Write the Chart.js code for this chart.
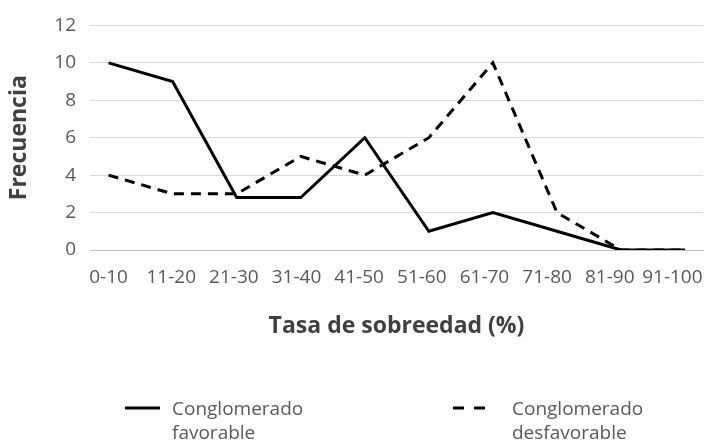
<!DOCTYPE html>
<html>
<head>
<meta charset="utf-8">
<script src="https://cdn.jsdelivr.net/npm/chart.js@4"></script>
<style>
  html, body { margin: 0; padding: 0; background: #fff; }
  #wrap { position: relative; width: 705px; height: 444px; }
  #chart { position: absolute; left: 0; top: 0; }
  .legend-item { position: absolute; top: 396px; font-family: 'Open Sans', sans-serif; font-size: 19px; line-height: 24px; color: #595959; }
  .legend-item svg { position: absolute; left: 0; top: 0; }
  .legend-text { position: absolute; top: 0; white-space: nowrap; }
</style>
</head>
<body>
<div id="wrap">
  <canvas id="chart" width="705" height="444"></canvas>
  <div class="legend-item" style="left:125px">
    <svg width="35" height="24"><line x1="0" y1="12" x2="35" y2="12" stroke="#000" stroke-width="3"/></svg>
    <div class="legend-text" style="left:47px">Conglomerado<br>favorable</div>
  </div>
  <div class="legend-item" style="left:453px">
    <svg width="32" height="24"><line x1="0" y1="12" x2="32" y2="12" stroke="#000" stroke-width="3" stroke-dasharray="11 10"/></svg>
    <div class="legend-text" style="left:59px">Conglomerado<br>desfavorable</div>
  </div>
</div>
<script>
// categories and series
const categories = ['0-10', '11-20', '21-30', '31-40', '41-50', '51-60', '61-70', '71-80', '81-90', '91-100'];
const favorable = [10, 9, 2.8, 2.8, 6, 1, 2, 1, 0, 0];
const desfavorable = [4, 3, 3, 5, 4, 6, 10, 2, 0, 0];
const yTicks = [0, 2, 4, 6, 8, 10, 12];

const tickColor = '#595959';
const titleColor = '#404040';
const fontFamily = "'Open Sans', sans-serif";

function toPoints(values) {
    return values.map((y, i) => ({ x: i, y }));
}

// the original's category labels sit on a slightly tighter pitch than the points,
// so the last one stays inside the frame; only the labels move, not the data
const labelPitch = 0.978;
function squeezeTickLabels(scale) {
    scale.getPixelForTick = function (index) {
        return this.getPixelForValue(index * labelPitch);
    };
}

new Chart(document.getElementById('chart'), {
    type: 'line',
    data: {
        datasets: [{
            label: 'Conglomerado favorable',
            data: toPoints(favorable),
            borderColor: '#000',
            borderWidth: 3,
            pointRadius: 0,
            tension: 0
        }, {
            label: 'Conglomerado desfavorable',
            data: toPoints(desfavorable),
            borderColor: '#000',
            borderWidth: 3,
            borderDash: [10, 7],
            pointRadius: 0,
            tension: 0
        }]
    },
    options: {
        responsive: false,
        animation: false,
        layout: { padding: { top: 25, right: 2, bottom: 100, left: 0 } },
        plugins: {
            legend: { display: false },
            tooltip: { enabled: false }
        },
        scales: {
            x: {
                type: 'linear',
                min: -0.29,
                max: 9.28,
                afterBuildTicks: (scale) => {
                    scale.ticks = categories.map((c, i) => ({ value: i }));
                },
                afterFit: (scale) => {
                    scale.height = 94;
                    scale.paddingRight = 0;
                },
                afterUpdate: squeezeTickLabels,
                grid: { display: false, drawTicks: false },
                border: { display: true, color: '#bfbfbf', width: 1 },
                ticks: {
                    autoSkip: false,
                    maxRotation: 0,
                    padding: 16,
                    color: tickColor,
                    font: { family: fontFamily, size: 19 },
                    callback: (v) => categories[v]
                },
                title: {
                    display: true,
                    text: 'Tasa de sobreedad (%)',
                    color: titleColor,
                    font: { family: fontFamily, size: 23, weight: 'bold' },
                    padding: { top: 0, bottom: 4 }
                }
            },
            y: {
                min: 0,
                max: 12,
                afterBuildTicks: (scale) => {
                    scale.ticks = yTicks.map(v => ({ value: v }));
                },
                afterFit: (scale) => { scale.width = 90; },
                grid: { color: '#d9d9d9', lineWidth: 1, drawTicks: false },
                border: { display: false },
                ticks: {
                    padding: 14,
                    color: tickColor,
                    font: { family: fontFamily, size: 19 }
                },
                title: {
                    display: true,
                    text: 'Frecuencia',
                    color: titleColor,
                    font: { family: fontFamily, size: 23, weight: 'bold' },
                    padding: { top: 6, bottom: 0 }
                }
            }
        }
    }
});
</script>
</body>
</html>
